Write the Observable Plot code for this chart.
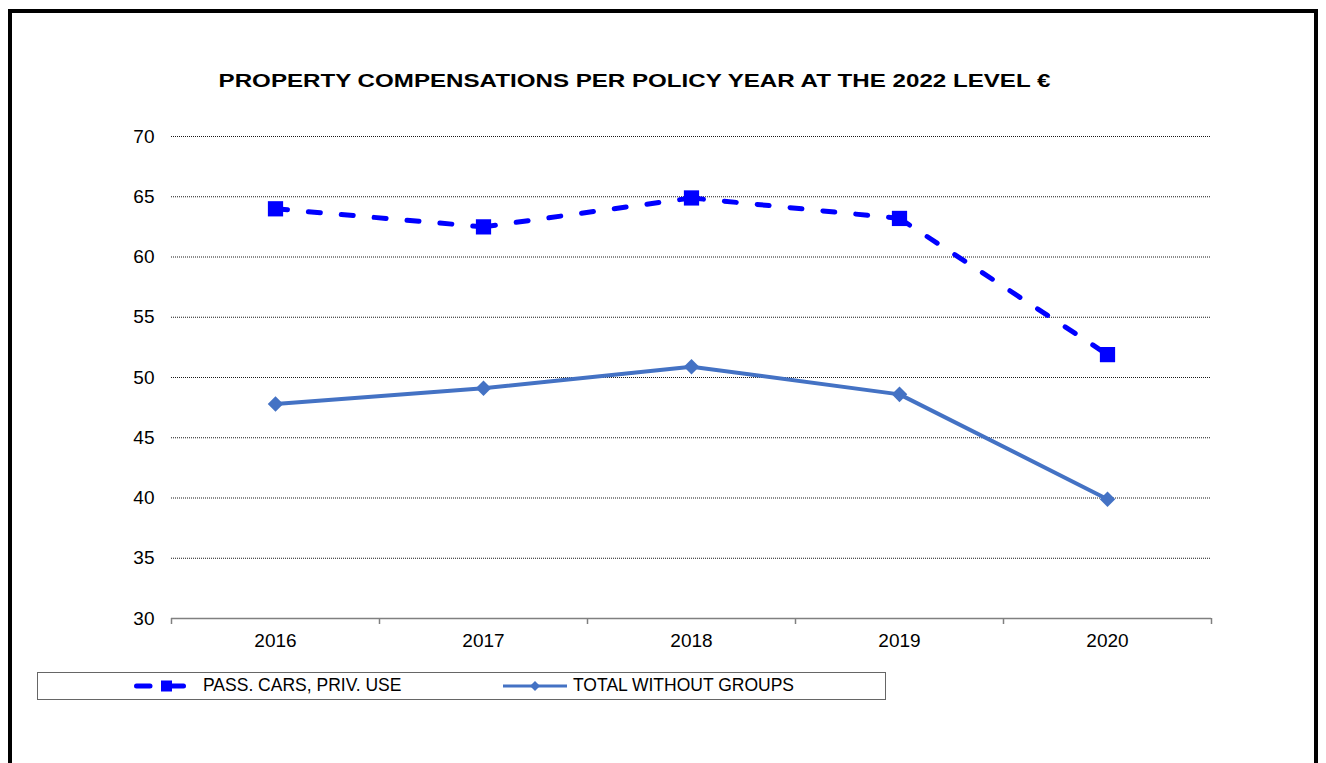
<!DOCTYPE html>
<html>
<head>
<meta charset="utf-8">
<script src="https://cdn.jsdelivr.net/npm/d3@7"></script>
<script src="https://cdn.jsdelivr.net/npm/@observablehq/plot@0.6"></script>
<style>
  body { margin: 0; background: #fff; font-family: "Liberation Sans", Arial, sans-serif; }
  #wrap { position: relative; width: 1326px; height: 763px; overflow: hidden; background: #fff; }
  #frame { position: absolute; left: 8px; top: 9px; width: 1302px; height: 800px; border: 4px solid #000; }
  #title { position: absolute; left: 0; width: 1269px; top: 71px; text-align: center; font-weight: bold;
           font-size: 19px; line-height: 19px; color: #000; white-space: nowrap;
           transform: scaleX(1.27); transform-origin: 50% 50%; }
  #chart { position: absolute; left: 0; top: 110px; }
  #legend { position: absolute; left: 37px; top: 672px; width: 847px; height: 26px; border: 1.5px solid #666; }
  #legsw { position: absolute; left: 0; top: 0; }
  .leg { position: absolute; top: 677px; font-size: 17.5px; line-height: 17.5px; color: #000; white-space: nowrap; }
</style>
</head>
<body>
<div id="wrap">
  <div id="frame"></div>
  <div id="title"></div>
  <div id="chart"></div>
  <div id="legend"></div>
  <svg id="legsw" width="1326" height="763"></svg>
  <span class="leg" id="leg1" style="left:203px"></span>
  <span class="leg" id="leg2" style="left:573px"></span>
</div>
<script>
const titleText = "PROPERTY COMPENSATIONS PER POLICY YEAR AT THE 2022 LEVEL €";
const years = [2016, 2017, 2018, 2019, 2020];
const passCars = [64.0, 62.5, 64.9, 63.2, 51.9];
const totalWithoutGroups = [47.8, 49.1, 50.9, 48.6, 39.9];
const yTicks = [30, 35, 40, 45, 50, 55, 60, 65, 70];
const seriesNames = ["PASS. CARS, PRIV. USE", "TOTAL WITHOUT GROUPS"];
const colors = ["#0000ff", "#4472c4"];

document.getElementById("title").textContent = titleText;
document.getElementById("leg1").textContent = seriesNames[0];
document.getElementById("leg2").textContent = seriesNames[1];

const bounds = years.map(y => y - 0.5).concat([years[years.length - 1] + 0.5]);
const passPts = years.map((x, i) => ({x, y: passCars[i]}));
const passSegs = d3.pairs(passPts);

const chart = Plot.plot({
  width: 1326,
  height: 550,
  marginTop: 26,
  marginBottom: 42,
  marginLeft: 171,
  marginRight: 115,
  x: {domain: [bounds[0], bounds[bounds.length - 1]], label: null},
  y: {domain: [yTicks[0], yTicks[yTicks.length - 1]], label: null},
  style: {fontFamily: '"Liberation Sans", Arial, sans-serif', fontSize: "19px", color: "#000", background: "transparent", overflow: "visible"},
  marks: [
    Plot.gridY(yTicks.slice(1), {stroke: "#000", strokeOpacity: 0.9, strokeDasharray: "1,1", strokeWidth: 1}),
    Plot.ruleY([yTicks[0]], {stroke: "#808080", strokeWidth: 1.5}),
    Plot.axisX(bounds, {tickSize: 6, tickFormat: () => "", stroke: "#808080", strokeWidth: 1.5, label: null}),
    Plot.axisX(years, {tickSize: 0, tickPadding: 15, tickFormat: d => String(d), label: null}),
    Plot.axisY(yTicks, {tickSize: 0, tickPadding: 17, tickFormat: d => String(d), label: null}),
    Plot.link(passSegs, {
      x1: d => d[0].x, y1: d => d[0].y, x2: d => d[1].x, y2: d => d[1].y,
      stroke: colors[0], strokeWidth: 5, strokeDasharray: "12,21", strokeLinecap: "round"
    }),
    Plot.dot(years, {x: years, y: passCars, symbol: "square", r: 8.6, fill: colors[0]}),
    Plot.line(years, {x: years, y: totalWithoutGroups, stroke: colors[1], strokeWidth: 4}),
    Plot.dot(years, {x: years, y: totalWithoutGroups, symbol: "diamond2", r: 7, fill: colors[1]})
  ]
});
document.getElementById("chart").appendChild(chart);

// legend swatches
const sw = d3.select("#legsw");
const cy = 686;
sw.append("line").attr("x1", 136.5).attr("x2", 150).attr("y1", cy).attr("y2", cy)
  .attr("stroke", colors[0]).attr("stroke-width", 5).attr("stroke-linecap", "round");
sw.append("line").attr("x1", 170).attr("x2", 183.5).attr("y1", cy).attr("y2", cy)
  .attr("stroke", colors[0]).attr("stroke-width", 5).attr("stroke-linecap", "round");
sw.append("rect").attr("x", 161).attr("y", cy - 5.5).attr("width", 11).attr("height", 11).attr("fill", colors[0]);
sw.append("line").attr("x1", 503).attr("x2", 567).attr("y1", cy).attr("y2", cy)
  .attr("stroke", colors[1]).attr("stroke-width", 3);
sw.append("path").attr("d", `M535,${cy-5}L540,${cy}L535,${cy+5}L530,${cy}Z`).attr("fill", colors[1]);
</script>
</body>
</html>
